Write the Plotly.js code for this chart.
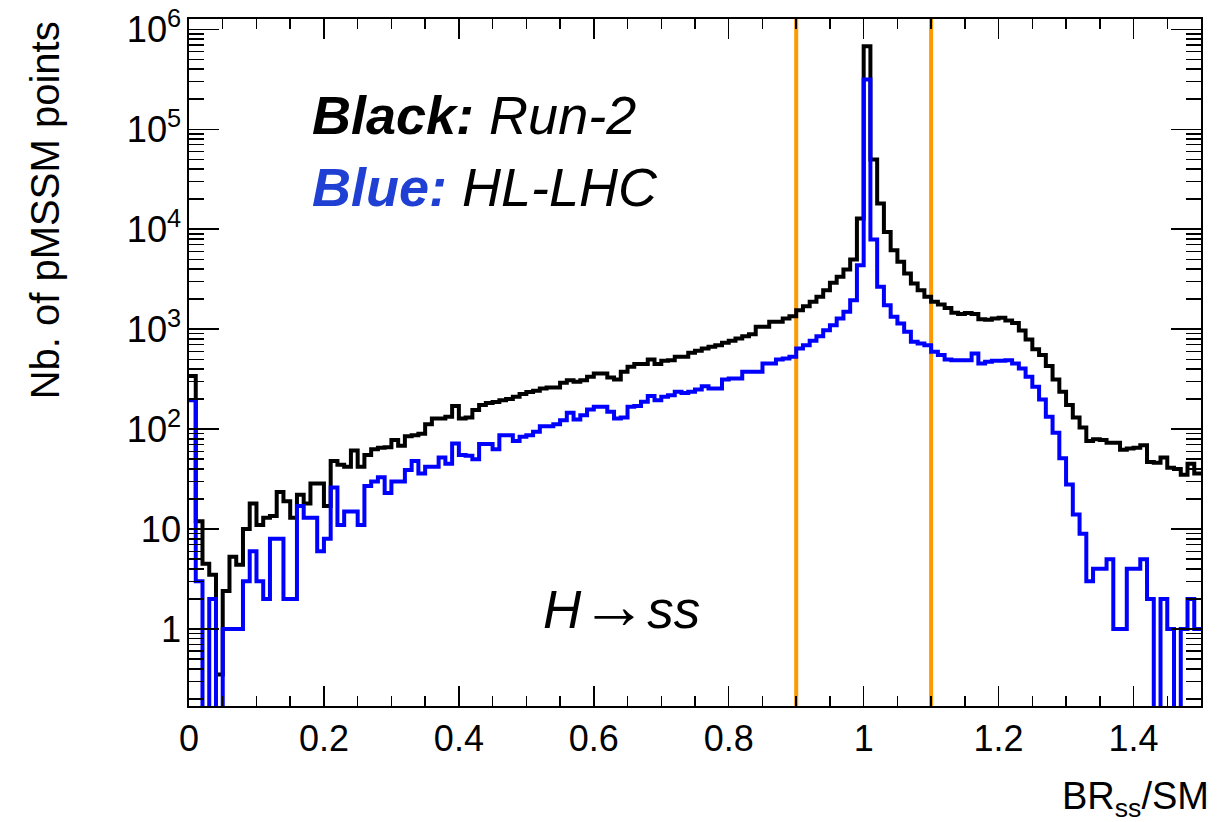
<!DOCTYPE html>
<html>
<head>
<meta charset="utf-8">
<script src="https://cdn.plot.ly/plotly-3.0.1.min.js"></script>
<style>
  html, body { margin: 0; padding: 0; background: #ffffff; }
  #chart { width: 1222px; height: 822px; }
</style>
</head>
<body>
<div id="chart"></div>
<script>
// ---- Data ----
const binStart = 0.0;
const binWidth = 0.01;

// Black: Run-2 (counts per bin, 150 bins from 0 to 1.5)
const run2Counts = [
  340, 12, 4.5, 3.5, 0.35, 2.4, 5.3, 4.4, 10, 18,
  11, 13, 13.5, 23.5, 19, 13, 22, 18, 28.5, 28.5,
  17, 48, 44, 42, 61, 42, 55, 63, 65, 66,
  78, 68, 85, 87, 90, 112, 128, 128, 133, 170,
  128, 131, 155, 174, 183, 187, 195, 200, 211, 224,
  235, 242, 255, 261, 261, 291, 309, 297, 309, 334,
  360, 360, 329, 314, 374, 420, 447, 447, 497, 447,
  482, 490, 529, 530, 580, 607, 641, 666, 692, 730,
  764, 807, 851, 891, 1055, 1055, 1183, 1183, 1279, 1349,
  1549, 1698, 1877, 2106, 2455, 2905, 3337, 3953, 4977, 12790,
  676000, 49750, 18070, 9400, 6170, 4715, 3603, 2862, 2455, 2106,
  1880, 1770, 1630, 1460, 1420, 1450, 1420, 1260, 1245, 1279,
  1300, 1220, 1150, 970, 790, 630, 550, 427, 314, 236,
  174, 131, 104, 76, 79, 78, 73, 73, 62, 64,
  65, 69, 47, 46, 52, 41, 40, 35, 45, 36
];

// Blue: HL-LHC
const hllhcCounts = [
  195, 3, 0, 2, 0, 1, 1, 1, 3, 6,
  3, 2, 8, 8, 2, 2, 17, 13, 13, 6,
  8, 26, 11, 15, 15, 11, 27, 30, 33, 23,
  30, 30, 39, 48, 36, 42, 42, 52, 45, 72,
  55, 54, 50, 71, 71, 63, 87, 87, 76, 84,
  87, 94, 107, 107, 112, 123, 146, 125, 138, 157,
  167, 167, 149, 128, 131, 167, 170, 188, 214, 195,
  211, 218, 236, 230, 236, 249, 269, 255, 255, 314,
  321, 321, 374, 374, 374, 454, 454, 497, 509, 529,
  641, 692, 764, 851, 977, 1096, 1279, 1490, 1950, 4365,
  314000, 7880, 2650, 1738, 1328, 1140, 940, 747, 719, 692,
  593, 550, 497, 490, 490, 490, 571, 454, 471, 482,
  482, 490, 454, 404, 334, 265, 198, 133, 92, 51,
  28, 14, 9, 3, 4, 4, 5, 1, 1, 4,
  4, 5, 2, 0, 2, 1, 0, 1, 2, 1
];

// Vertical reference lines (BR/SM window)
const windowLines = [0.9, 1.1];

// Axis ranges
const xRange = [0, 1.5];
const yLogRange = [-0.77, 6.103];

// Text
const xTitle = "BR<sub>ss</sub>/SM";
const yTitle = "Nb. of pMSSM points";
const label1 = "<b><i>Black:</i></b><i> Run-2</i>";
const label2 = "<span style=\"color:#1f40d2\"><b><i>Blue:</i></b></span><i> HL-LHC</i>";
const processLabel = "<i>H</i><span style=\"font-size:66px\">→</span><i>ss</i>";

// ---- Build step histograms ----
const FLOOR = 1e-3; // empty bins drop below the visible axis range
function stepTrace(counts, color) {
  const xs = [], ys = [];
  for (let i = 0; i < counts.length; i++) {
    xs.push(binStart + i * binWidth);
    ys.push(counts[i] > 0 ? counts[i] : FLOOR);
  }
  xs.push(binStart + counts.length * binWidth);
  ys.push(counts[counts.length - 1] > 0 ? counts[counts.length - 1] : FLOOR);
  return {
    type: 'scatter', mode: 'lines', x: xs, y: ys,
    line: { shape: 'hv', color: color, width: 4 },
    hoverinfo: 'skip', showlegend: false
  };
}

const traces = [
  stepTrace(run2Counts, '#000000'),
  stepTrace(hllhcCounts, '#0000ff')
];

const FONT = "Liberation Sans, Arial, Helvetica, sans-serif";

const shapes = windowLines.map(v => ({
  type: 'line', xref: 'x', yref: 'paper', x0: v, x1: v, y0: 0, y1: 1,
  line: { color: '#ff9900', width: 4 }, layer: 'below'
}));

const layout = {
  width: 1222, height: 822,
  paper_bgcolor: '#ffffff', plot_bgcolor: '#ffffff',
  margin: { l: 189, r: 21, t: 19, b: 116 },
  showlegend: false,
  font: { family: FONT, color: '#000000' },
  xaxis: {
    range: xRange, tick0: 0, dtick: 0.2,
    ticks: 'inside', ticklen: 20, tickwidth: 1.5, tickcolor: '#000',
    minor: { dtick: 0.05, ticks: 'inside', ticklen: 10, tickwidth: 1.5, tickcolor: '#000', showgrid: false },
    showline: true, linewidth: 2, linecolor: '#000', mirror: 'allticks',
    showgrid: false, zeroline: false,
    tickfont: { family: FONT, size: 36, color: '#000' }
  },
  yaxis: {
    type: 'log', range: yLogRange, dtick: 1, exponentformat: 'power',
    ticks: 'inside', ticklen: 30, tickwidth: 1.5, tickcolor: '#000',
    minor: { dtick: 'D1', ticks: 'inside', ticklen: 15, tickwidth: 1.5, tickcolor: '#000', showgrid: false },
    showline: true, linewidth: 2, linecolor: '#000', mirror: 'allticks',
    showgrid: false, zeroline: false,
    tickfont: { family: FONT, size: 29, color: '#000' }
  },
  shapes: shapes,
  annotations: [
    { xref: 'paper', yref: 'paper', x: 0.1196, y: 0.860, xanchor: 'left', yanchor: 'middle',
      text: label1, showarrow: false, font: { family: FONT, size: 54, color: '#000' } },
    { xref: 'paper', yref: 'paper', x: 0.1196, y: 0.755, xanchor: 'left', yanchor: 'middle',
      text: label2, showarrow: false, font: { family: FONT, size: 54, color: '#000' } },
    { xref: 'paper', yref: 'paper', x: 0.4275, y: 0.147, xanchor: 'center', yanchor: 'middle',
      text: processLabel, showarrow: false, font: { family: FONT, size: 53, color: '#000' } },
    { xref: 'paper', yref: 'paper', x: 1.0095, y: -0.135, xanchor: 'right', yanchor: 'middle',
      text: xTitle, showarrow: false, font: { family: FONT, size: 38, color: '#000' } },
    { xref: 'paper', yref: 'paper', x: -0.142, y: 1.0, xanchor: 'center', yanchor: 'top',
      text: yTitle, textangle: -90, showarrow: false, font: { family: FONT, size: 40, color: '#000' } }
  ]
};

Plotly.newPlot('chart', traces, layout, { staticPlot: true, displayModeBar: false });
</script>
</body>
</html>
